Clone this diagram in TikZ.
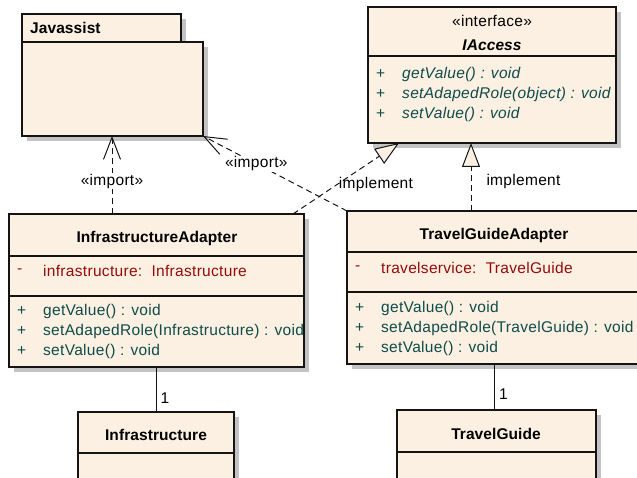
\documentclass[tikz,border=0pt]{standalone}
\usepackage{fontspec}
\setmainfont{Liberation Sans}[LetterSpace=2, BoldFeatures={LetterSpace=0.5}, BoldItalicFeatures={LetterSpace=0.5}]
\usetikzlibrary{arrows.meta,shadows,calc}

\definecolor{boxfill}{RGB}{251,240,225}
\definecolor{boxline}{RGB}{20,20,20}
\definecolor{attrred}{RGB}{150,10,10}
\definecolor{opteal}{RGB}{15,75,75}
\definecolor{shadowgray}{RGB}{195,195,195}

\begin{document}
\begin{tikzpicture}[x=1pt,y=-1pt,
  umlbox/.style={draw=boxline, fill=boxfill, line width=1.1pt, anchor=north west,
    inner sep=0pt, outer sep=0pt,
    general shadow={fill=shadowgray, shadow xshift=5pt, shadow yshift=-5pt}},
  sepline/.style={draw=boxline, line width=1.1pt},
  txt/.style={inner sep=0pt, font=\fontsize{15.5}{18}\selectfont},
  ttl/.style={txt, font=\fontsize{15.5}{18}\selectfont\bfseries},
  attr/.style={txt, anchor=west, text=attrred},
  oper/.style={txt, anchor=west, text=opteal},
  ioper/.style={txt, anchor=west, text=opteal, font=\fontsize{15.5}{18}\selectfont\itshape},
  conn/.style={draw=boxline, line width=1pt},
  dep/.style={conn, dash pattern=on 6pt off 4pt},
  importarrow/.style={dep, -{Straight Barb[length=22pt,width=17pt,line width=1pt]}},
  realize/.style={dep, -{Triangle[length=24pt,width=18pt,fill=boxfill,line width=1pt]}},
  lbl/.style={txt, fill=white, inner sep=1pt}]

\useasboundingbox (0,0) rectangle (637,478);

% ---- package Javassist ----
\node[umlbox, minimum width=159pt, minimum height=28pt] (jtab) at (22,14) {};
\node[umlbox, minimum width=181pt, minimum height=94pt] (jbody) at (22,42) {};
\node[ttl, anchor=west] (jname) at (30,28) {Javassist};

% ---- interface IAccess ----
\node[umlbox, minimum width=248pt, minimum height=136pt] (iacc) at (368,7) {};
\draw[sepline] ([yshift=-49pt]iacc.north west) -- ([yshift=-49pt]iacc.north east);
\node[txt] (iacc-st) at (492,21) {«interface»};
\node[txt, font=\fontsize{15.5}{18}\selectfont\bfseries\itshape] (iacc-name) at (492,45) {IAccess};
\node[oper] (iacc-p1) at (376,74) {+};
\node[oper] (iacc-p2) at (376,94) {+};
\node[oper] (iacc-p3) at (376,114) {+};
\node[ioper] (iacc-m1) at (402,74) {getValue() : void};
\node[ioper] (iacc-m2) at (402,94) {setAdapedRole(object) : void};
\node[ioper] (iacc-m3) at (402,114) {setValue() : void};

% ---- class InfrastructureAdapter ----
\node[umlbox, minimum width=295pt, minimum height=153pt] (ia) at (9,214) {};
\draw[sepline] ([yshift=-42pt]ia.north west) -- ([yshift=-42pt]ia.north east);
\draw[sepline] ([yshift=-82pt]ia.north west) -- ([yshift=-82pt]ia.north east);
\node[ttl] (ia-name) at (157,238) {InfrastructureAdapter};
\node[attr] (ia-v) at (17,271) {-};
\node[attr] (ia-a) at (43,271) {infrastructure:\ \ Infrastructure};
\node[oper] (ia-p1) at (17,311) {+};
\node[oper] (ia-p2) at (17,331) {+};
\node[oper] (ia-p3) at (17,351) {+};
\node[oper] (ia-m1) at (43,311) {getValue() : void};
\node[oper] (ia-m2) at (43,331) {setAdapedRole(Infrastructure) : void};
\node[oper] (ia-m3) at (43,351) {setValue() : void};

% ---- class TravelGuideAdapter ----
\node[umlbox, minimum width=295pt, minimum height=153pt] (tga) at (347,211) {};
\draw[sepline] ([yshift=-41pt]tga.north west) -- ([yshift=-41pt]tga.north east);
\draw[sepline] ([yshift=-81pt]tga.north west) -- ([yshift=-81pt]tga.north east);
\node[ttl] (tga-name) at (494,235) {TravelGuideAdapter};
\node[attr] (tga-v) at (355,268) {-};
\node[attr] (tga-a) at (381,268) {travelservice:\ \ TravelGuide};
\node[oper] (tga-p1) at (355,308) {+};
\node[oper] (tga-p2) at (355,328) {+};
\node[oper] (tga-p3) at (355,348) {+};
\node[oper] (tga-m1) at (381,308) {getValue() : void};
\node[oper] (tga-m2) at (381,328) {setAdapedRole(TravelGuide) : void};
\node[oper] (tga-m3) at (381,348) {setValue() : void};

% ---- class Infrastructure ----
\node[umlbox, minimum width=156pt, minimum height=72pt] (inf) at (78,412) {};
\draw[sepline] ([yshift=-41pt]inf.north west) -- ([yshift=-41pt]inf.north east);
\node[ttl] (inf-name) at (156,435) {Infrastructure};

% ---- class TravelGuide ----
\node[umlbox, minimum width=199pt, minimum height=74pt] (tg) at (397,410) {};
\draw[sepline] ([yshift=-42pt]tg.north west) -- ([yshift=-42pt]tg.north east);
\node[ttl] (tg-name) at (496,434) {TravelGuide};

% ---- connector end points ----
\coordinate (ia-imp) at ([xshift=103pt]ia.north west);
\coordinate (jb-imp) at ([xshift=90pt]jbody.south west);
\coordinate (ia-real) at ([xshift=-11pt]ia.north east);
\coordinate (iacc-real1) at ([xshift=31pt]iacc.south west);
\coordinate (tga-real) at ([xshift=124pt]tga.north west);
\coordinate (iacc-real2) at ([xshift=103pt]iacc.south west);

% ---- imports ----
\draw[importarrow] (ia-imp) -- node[lbl, pos=0.42] {«import»} (jb-imp);
\draw[importarrow] (tga.north west) -- node[lbl, pos=0.63] {«import»} (jbody.south east);

% ---- realizations ----
\draw[realize] (ia-real) -- node[txt, pos=0.41, anchor=west, xshift=2pt] {implement} (iacc-real1);
\draw[realize] (tga-real) -- node[txt, pos=0.44, anchor=west, xshift=15pt] {implement} (iacc-real2);

% ---- associations ----
\draw[conn] (inf.north) -- node[txt, pos=0.31, anchor=west, xshift=4pt] {1} (inf.north |- ia.south);
\draw[conn] (tga.south) -- node[txt, pos=0.65, anchor=west, xshift=4pt] {1} (tga.south |- tg.north);

\end{tikzpicture}
\end{document}
